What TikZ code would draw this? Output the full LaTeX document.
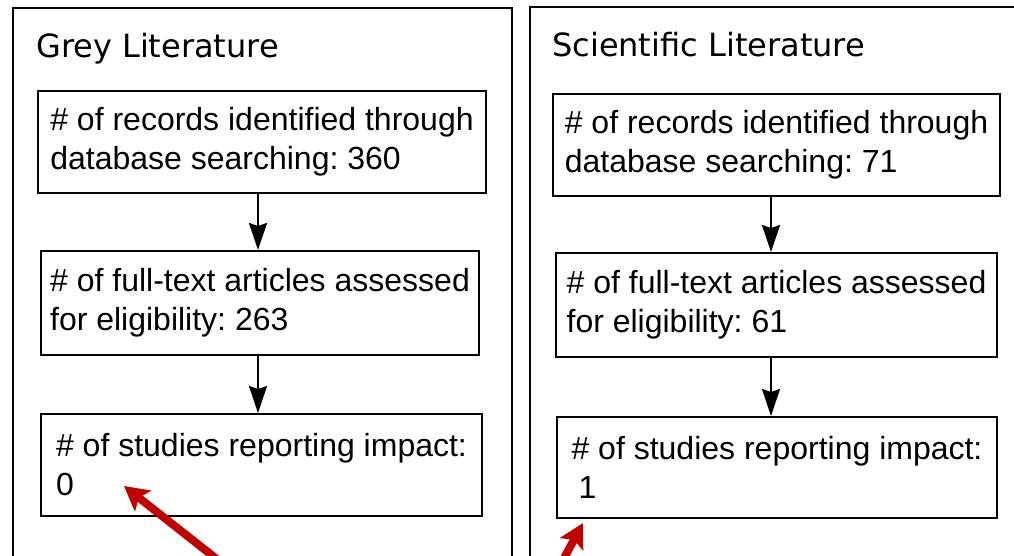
\documentclass[tikz,border=0pt]{standalone}
\usepackage{fontspec}
\setmainfont{Liberation Sans}
\newfontfamily\titlefont{DejaVu Sans}
\usetikzlibrary{arrows.meta}
\definecolor{hintred}{RGB}{192,0,0}
\frenchspacing

\begin{document}
\begin{tikzpicture}[x=1pt,y=-1pt,
  panel/.style={draw,line width=2pt},
  paneltitle/.style={anchor=base west,inner sep=0pt,font=\titlefont\fontsize{32}{39}\selectfont},
  stepbox/.style={draw,line width=2pt,align=left,minimum height=102pt,font=\fontsize{32}{39}\selectfont\frenchspacing},
  flow/.style={line width=2pt,-{Stealth[length=27pt,width=18pt,inset=3pt]}},
  hint/.style={line width=8pt,hintred,-{Stealth[length=24pt,width=26pt,inset=5pt]}}]
\useasboundingbox (0,0) rectangle (1014,555);
\clip (0,0) rectangle (1014,555);
% panels
\draw[panel] (13,590) -- (13,8) -- (512,8) -- (512,590);
\draw[panel] (530,590) -- (530,7) -- (1040,7);
\node[paneltitle] (greytitle) at (36,57) {Grey Literature};
\node[paneltitle] (scititle) at (552,56) {Scientific Literature};
% grey literature
\node[stepbox,minimum width=448pt] (g1) at (262,142) {\# of records identified through\\database searching: 360};
\node[stepbox,minimum width=438pt,minimum height=104pt] (g2) at (260,303) {\# of full-text articles assessed\\for eligibility: 263};
\node[stepbox,minimum width=441pt] (g3) at (261.5,465) {\# of studies reporting impact:\\0};
% scientific literature
\node[stepbox,minimum width=447pt] (s1) at (776.5,145) {\# of records identified through\\database searching: 71};
\node[stepbox,minimum width=441pt,minimum height=104pt] (s2) at (776.5,305) {\# of full-text articles assessed\\for eligibility: 61};
\node[stepbox,minimum width=440pt,minimum height=101pt] (s3) at (777,467.5) {\# of studies reporting impact:\\\hspace*{7pt}1};
\coordinate (gx) at (258,0);
\coordinate (sx) at (771,0);
\draw[flow] (g1.south -| gx) -- (g2.north -| gx);
\draw[flow] (g2.south -| gx) -- (g3.north -| gx);
\draw[flow] (s1.south -| sx) -- (s2.north -| sx);
\draw[flow] (s2.south -| sx) -- (s3.north -| sx);
% red pointers
\coordinate (gtip) at (124,486);
\coordinate (gtail) at (237,575);
\coordinate (stip) at (583,523);
\coordinate (stail) at (555,575);
\draw[hint] (gtail) -- (gtip);
\draw[hint] (stail) -- (stip);
\end{tikzpicture}
\end{document}
